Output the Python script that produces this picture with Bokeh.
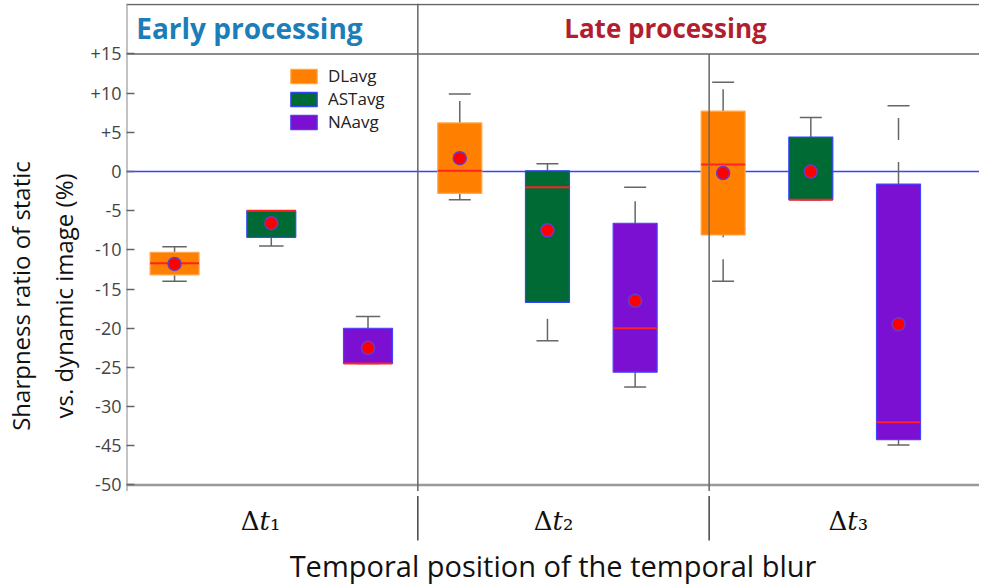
import numpy as np
from bokeh.plotting import figure
from bokeh.models import Range1d, FixedTicker, Label
from bokeh.core.properties import value
from bokeh.embed import file_html
from bokeh.resources import INLINE

# ---------------- data ----------------
groups = ["Δ𝑡₁", "Δ𝑡₂", "Δ𝑡₃"]
series = ["DLavg", "ASTavg", "NAavg"]
phase_titles = ["Early processing", "Late processing"]
x_title = "Temporal position of the temporal blur"
y_title = "Sharpness ratio of static\nvs. dynamic image (%)"

dl_low = [-14.0, -3.6, -14.0]
dl_q1 = [-13.2, -2.8, -8.1]
dl_med = [-11.7, 0.1, 0.9]
dl_q3 = [-10.3, 6.2, 7.7]
dl_high = [-9.6, 9.9, 11.4]
dl_mean = [-11.8, 1.7, -0.2]

ast_low = [-9.5, -21.6, -3.6]
ast_q1 = [-8.4, -16.7, -3.6]
ast_med = [-5.0, -2.0, -3.6]
ast_q3 = [-5.0, 0.1, 4.4]
ast_high = [-5.0, 1.0, 6.9]
ast_mean = [-6.6, -7.5, 0.0]

na_low = [-24.5, -27.5, -34.9]
na_q1 = [-24.5, -25.6, -34.2]
na_med = [-24.5, -20.0, -32.0]
na_q3 = [-20.0, -6.6, -1.6]
na_high = [-18.5, -2.0, 8.4]
na_mean = [-22.5, -16.5, -19.5]

y_ticks = [15, 10, 5, 0, -5, -10, -15, -20, -25, -30, -35, -40]
y_tick_labels = ["+15", "+10", "+5", "0", "-5", "-10", "-15", "-20", "-25", "-30", "-45", "-50"]

# ---------------- layout / style ----------------
group_centers = [0.497, 1.445, 2.349]
series_spacing = [0.332, 0.301, 0.301]
box_widths = [0.168, 0.151, 0.151]
label_pos = [0.46, 1.466, 2.478]
fills = ["#FF8000", "#006A35", "#7B10D3"]
edges = ["#FFA850", "#3344FF", "#4444FF"]
grey = "#666666"
font = "Open Sans"

stats = [
    (dl_low, dl_q1, dl_med, dl_q3, dl_high, dl_mean),
    (ast_low, ast_q1, ast_med, ast_q3, ast_high, ast_mean),
    (na_low, na_q1, na_med, na_q3, na_high, na_mean),
]

y_top = 21.44      # top of the header band
y_axis0 = -40      # position of the bottom axis line (labelled -50)
y_min = -53.21     # bottom of the canvas
x_max = 2.928
p = figure(width=979, height=588, output_backend="svg", toolbar_location=None,
           x_range=Range1d(0, x_max), y_range=Range1d(y_min, y_top),
           min_border_left=124, min_border_right=0, min_border_top=3,
           min_border_bottom=0)
p.outline_line_color = None
p.grid.visible = False
p.xaxis.visible = False
p.background_fill_color = "white"

# zero line
p.segment(x0=[0], y0=[0], x1=[x_max], y1=[0], line_color="#3344FF", line_width=1.4)

gc = np.array(group_centers)
sp = np.array(series_spacing)
bw = np.array(box_widths)
for s, (lo, q1, med, q3, hi, mn) in enumerate(stats):
    x = gc + (s - 1) * sp
    lo, q1, med, q3, hi, mn = map(np.array, (lo, q1, med, q3, hi, mn))
    # whiskers (drawn from lower to higher value, dashed)
    p.segment(x0=x, y0=q3, x1=x, y1=hi, line_color=grey, line_width=1.5, line_dash="22 22")
    p.segment(x0=x, y0=lo, x1=x, y1=q1, line_color=grey, line_width=1.5, line_dash="22 22")
    # caps
    p.segment(x0=x - bw / 4, y0=hi, x1=x + bw / 4, y1=hi, line_color=grey, line_width=1.5)
    p.segment(x0=x - bw / 4, y0=lo, x1=x + bw / 4, y1=lo, line_color=grey, line_width=1.5)
    # boxes
    p.vbar(x=x, width=bw, bottom=q1, top=q3, fill_color=fills[s],
           line_color=edges[s], line_width=1.2, legend_label=series[s])
    # medians
    p.segment(x0=x - bw / 2, y0=med, x1=x + bw / 2, y1=med, line_color="#FF2222", line_width=2)
    # means
    p.scatter(x=x, y=mn, size=13, fill_color="#FF0000", line_color="#6A3AC8", line_width=1.5)

# frame lines: header band, left line, bottom axis line, separators
p.segment(x0=[0, 0], y0=[y_top - 0.13, 15], x1=[x_max, x_max], y1=[y_top - 0.13, 15],
          line_color=grey, line_width=1.5)
p.segment(x0=[0], y0=[y_axis0], x1=[x_max], y1=[y_axis0], line_color="#999999", line_width=2.5)
p.segment(x0=[0], y0=[y_axis0 - 0.77], x1=[0], y1=[y_top], line_color="#888888", line_width=2)
p.segment(x0=[1, 2], y0=[y_axis0 - 0.77, y_axis0 - 0.77], x1=[1, 2], y1=[y_top, 15],
          line_color=grey, line_width=1.5)
p.segment(x0=[1, 2], y0=[y_axis0 - 1.4, y_axis0 - 1.4], x1=[1, 2], y1=[y_axis0 - 7.1, y_axis0 - 7.1],
          line_color="#444444", line_width=1.5)

# header titles
hx = [0.422, 1.85]
hcol = ["#1C7DB8", "#B21E2E"]
hsize = ["28px", "26px"]
for t, xx, c, fs in zip(phase_titles, hx, hcol, hsize):
    p.add_layout(Label(x=xx, y=18.25, text=t, text_align="center", text_baseline="middle",
                       text_font="Open Sans", text_font_style="bold", text_font_size=fs,
                       text_color=c))

# group labels under the axis and x title
p.text(x=label_pos, y=[y_axis0 - 4.6] * len(label_pos), text=groups, text_align="center",
       text_baseline="middle", text_font=value("DejaVu Serif"), text_font_size="26px",
       text_color="#111111")
p.add_layout(Label(x=1.464, y=y_axis0 - 10.3, text=x_title, text_align="center",
                   text_baseline="middle", text_font=font, text_font_size="29px",
                   text_color="#111111"))

# y axis
yax = p.yaxis[0]
yax.ticker = FixedTicker(ticks=y_ticks, minor_ticks=[])
yax.major_label_overrides = {t: l for t, l in zip(y_ticks, y_tick_labels)}
yax.major_tick_in = 8
yax.major_tick_out = 0
yax.major_tick_line_color = grey
yax.major_tick_line_width = 1.5
yax.axis_line_color = None
yax.major_label_text_font = font
yax.major_label_text_font_size = "18px"
yax.major_label_text_color = "#444444"
yax.major_label_standoff = 5
yax.axis_label = y_title
yax.axis_label_text_font = font
yax.axis_label_text_font_size = "24px"
yax.axis_label_text_font_style = "normal"
yax.axis_label_text_color = "#111111"
yax.axis_label_text_line_height = 1.3
yax.axis_label_standoff = 8

# legend
lg = p.legend[0]
lg.location = (161, 455)
lg.border_line_color = None
lg.background_fill_alpha = 0
lg.padding = 0
lg.margin = 0
lg.glyph_width = 33
lg.glyph_height = 18
lg.label_height = 18
lg.spacing = 0
lg.label_standoff = 8
lg.label_text_font = font
lg.label_text_font_size = "17px"
lg.label_text_color = "#222222"

open("out.html", "w").write(file_html(p, INLINE))
